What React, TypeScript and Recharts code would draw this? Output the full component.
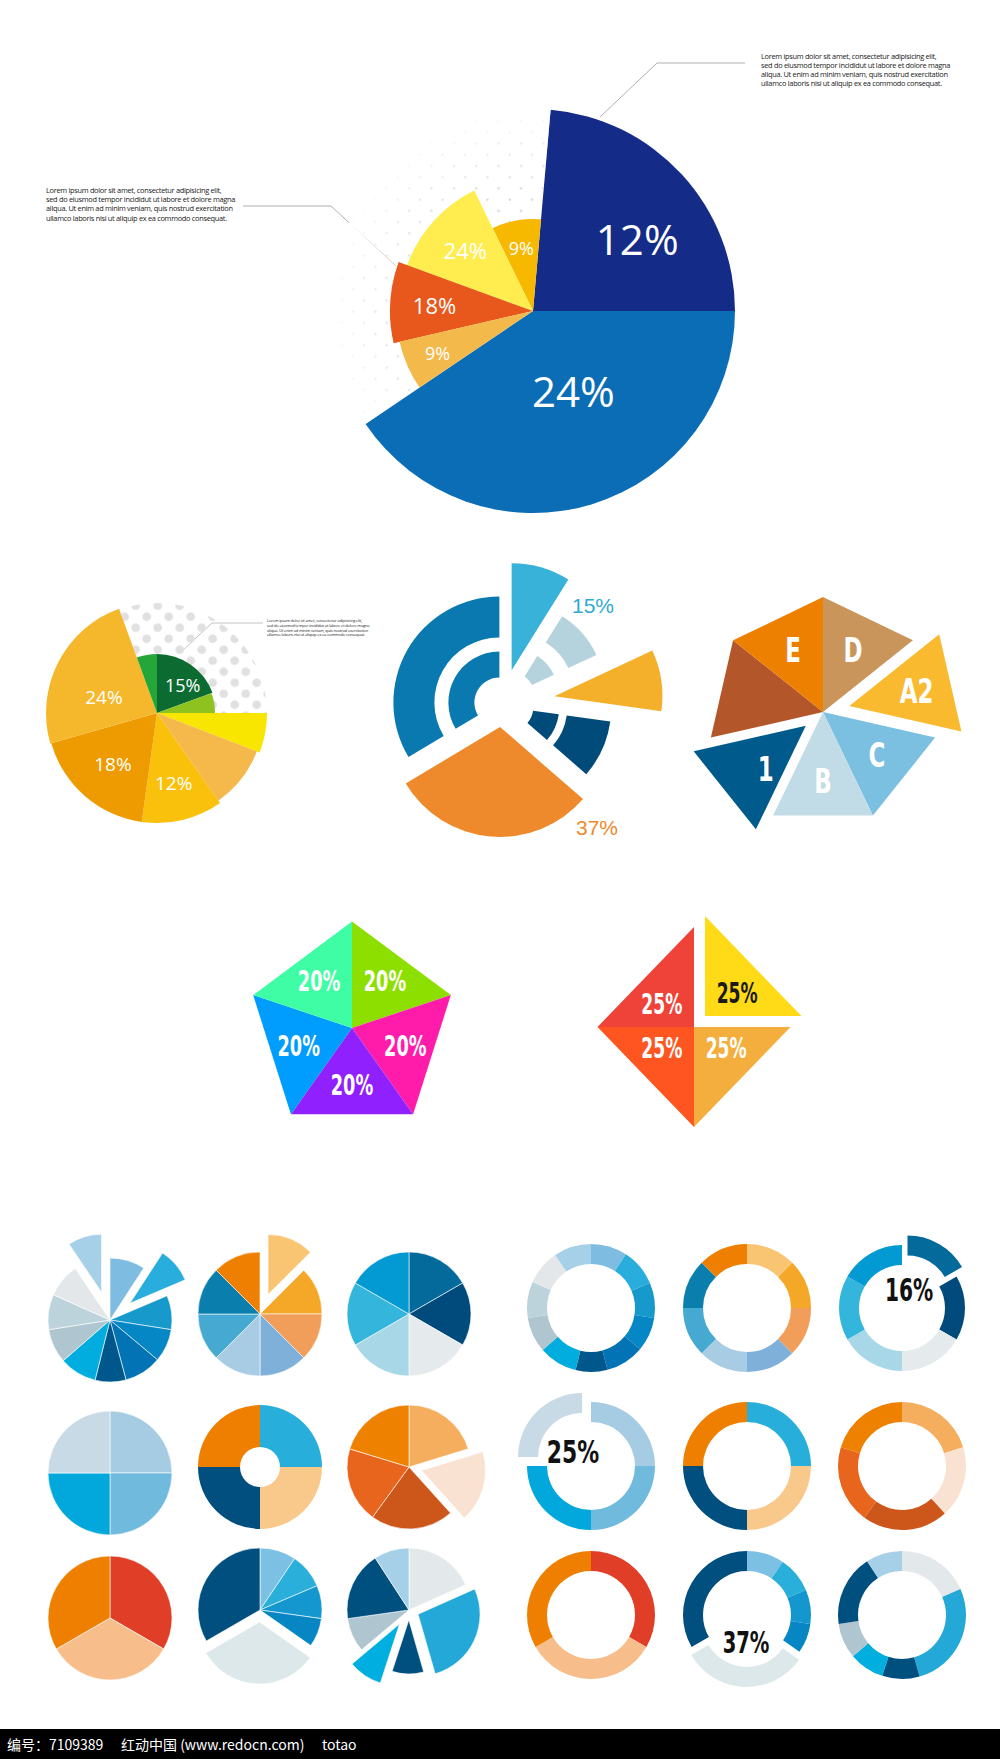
import React from "react";
import { PieChart, Pie, Cell } from "recharts";

const RAD = Math.PI / 180;
const CONDENSED = "'DejaVu Sans Condensed', 'DejaVu Sans', sans-serif";
const HUMANIST = "'Open Sans', 'Noto Sans', sans-serif";
const GROTESK = "'Liberation Sans', Arial, sans-serif";

// ---------- hero pie (top), slice widths in degrees, ccw from 3 o'clock
const heroValues = [85, 31, 44, 33, 21, 146];
const heroLabels = ["12%", "9%", "24%", "18%", "9%", "24%"];
const heroColors = ["#152B88", "#F6B900", "#FFED4F", "#E8571B", "#F3B94B", "#0A6DB6"];
const heroRadius = [202, 92, 134, 143, 137, 202];

// ---------- sun pie, cw from 3 o'clock
const sunValues = [21, 34, 43, 66, 86, 20, 70, 20];
const sunLabels = ["", "", "12%", "18%", "24%", "", "15%", ""];
const sunColors = ["#F8E600", "#F4B84B", "#F9C00C", "#ED9B00", "#F5B82C", "#25A639", "#0B6B31", "#8DC21F"];
const sunRadius = [110, 107, 110, 110, 111, 59, 59, 58];

// ---------- split rings, ccw from 12 o'clock
const ringValues = [121, 108, 33, 33, 33, 32];
const ringColors = ["#0A79B0", "#EE8A2B", "#014B7B", "#F4B02B", "#B5D3DC", "#38B2D9"];

// ---------- polygon pies
const heptaValues = [1, 1, 1, 1, 1, 1, 1];
const heptaLabels = ["D", "A2", "C", "B", "1", "", "E"];
const heptaColors = ["#C9955B", "#F9BA30", "#7CC0E1", "#C1DCE6", "#015A8C", "#B3562A", "#EE8001"];

const pentaValues = [20, 20, 20, 20, 20];
const pentaLabels = ["20%", "20%", "20%", "20%", "20%"];
const pentaColors = ["#8DDF00", "#FF1CAB", "#9021FE", "#009CFE", "#3FFDA4"];

const diamondValues = [25, 25, 25, 25];
const diamondLabels = ["25%", "25%", "25%", "25%"];
const diamondColors = ["#FFDA16", "#F4AE3D", "#FF5520", "#EF4238"];

// ---------- small multiples, cw from 12 o'clock
const blueEleven = [33, 34, 32, 31, 35, 29, 35, 32, 33, 32, 34];
const blueElevenColors = ["#7EBDE1", "#29ADDC", "#1899CC", "#0687C5", "#0274B5", "#00578C", "#00ADDE", "#AFC6D0", "#BDD3DC", "#E3E7E9", "#A6D0E8"];
const warmEight = [45, 45, 45, 45, 45, 45, 45, 45];
const warmEightColors = ["#F9C572", "#F5A828", "#F19E5A", "#7EB0D9", "#A9CCE5", "#45A9D1", "#0A7FAE", "#EE7F00"];
const sixths = [60, 60, 60, 60, 60, 60];
const sixthsColors = ["#036A9B", "#004B7B", "#E5EBED", "#A8D8E8", "#33B5DC", "#0399D3"];
const quarters = [90, 90, 90, 90];
const coolQuarterColors = ["#A6CCE4", "#70BADD", "#02A8DB", "#C8DAE6"];
const mixQuarterColors = ["#28AEDA", "#F8C98B", "#004F7F", "#EE7F00"];
const orangeFive = [73, 65, 78, 71, 73];
const orangeFiveColors = ["#F4AE5E", "#F9E2D1", "#CD571A", "#E8651E", "#EE8200"];
const thirds = [120, 120, 120];
const thirdsColors = ["#E03E26", "#F7BE8C", "#EE7F00"];
const navySix = [34, 33, 31, 27, 115, 120];
const navySixColors = ["#7CC0E3", "#2AAEDA", "#1497CE", "#0687C4", "#DDE8EB", "#004F7F"];
const mixSeven = [66, 98, 34, 32, 32, 65, 33];
const mixSevenColors = ["#E3E8EA", "#23A8D8", "#00507F", "#00AEDF", "#AFC6D0", "#00507F", "#A6D0E8"];

const loremLines = [
  "Lorem ipsum dolor sit amet, consectetur adipisicing elit,",
  "sed do eiusmod tempor incididut ut labore et dolore magna",
  "aliqua. Ut enim ad minim veniam, quis nostrud exercitation",
  "ullamco laboris nisi ut aliquip ex ea commodo consequat.",
];

type Band = [number, number, string?];

const toData = (values: number[]) => values.map((v, i) => ({ name: `s${i}`, v }));

function midAngles(values: number[], start: number, dir: number) {
  const total = values.reduce((a, b) => a + b, 0);
  let acc = 0;
  return values.map((v) => {
    const m = start + (dir * (acc + v / 2) * 360) / total;
    acc += v;
    return m;
  });
}

// one <Pie> per (band, offset) group, slices outside the group are transparent
function slicedPie(
  id: string,
  cx: number,
  cy: number,
  values: number[],
  colors: string[],
  bands: Band[][],
  o: { start?: number; dir?: number; explode?: number[]; stroke?: string; sw?: number } = {}
) {
  const start = o.start ?? 90;
  const dir = o.dir ?? -1;
  const mids = midAngles(values, start, dir);
  const data = toData(values);
  const groups: { key: string; inner: number; outer: number; dx: number; dy: number; fills: (string | null)[] }[] = [];
  const depth = Math.max(...bands.map((b) => b.length));
  for (let l = 0; l < depth; l++) {
    values.forEach((_, i) => {
      const b = bands[i][l];
      if (!b) return;
      const d = o.explode?.[i] ?? 0;
      const key = `${l}-${b[0]}-${b[1]}-${d ? i : "c"}`;
      let g = groups.find((x) => x.key === key);
      if (!g) {
        g = {
          key,
          inner: b[0],
          outer: b[1],
          dx: d * Math.cos(mids[i] * RAD),
          dy: -d * Math.sin(mids[i] * RAD),
          fills: values.map(() => null),
        };
        groups.push(g);
      }
      g.fills[i] = b[2] ?? colors[i];
    });
  }
  return groups.map((g) => (
    <Pie
      key={`${id}-${g.key}`}
      data={data}
      dataKey="v"
      cx={cx + g.dx}
      cy={cy + g.dy}
      innerRadius={g.inner}
      outerRadius={g.outer}
      startAngle={start}
      endAngle={start + dir * 360}
      stroke="none"
      isAnimationActive={false}
    >
      {g.fills.map((f, i) => (
        <Cell
          key={i}
          fill={f ?? "transparent"}
          stroke={f && o.stroke ? o.stroke : "none"}
          strokeWidth={f && o.sw ? o.sw : 0}
        />
      ))}
    </Pie>
  ));
}

function textPie(
  id: string,
  cx: number,
  cy: number,
  values: number[],
  labels: string[],
  o: { start: number; dir: number; radius: number[]; frac: number[]; turn?: number[]; size: number[] }
) {
  const render = (p: any) => {
    const i = p.index as number;
    if (!labels[i]) return null;
    const a = (p.startAngle + p.endAngle) / 2 + (o.turn?.[i] ?? 0);
    const r = o.radius[i] * o.frac[i];
    return (
      <text
        x={p.cx + r * Math.cos(a * RAD)}
        y={p.cy - r * Math.sin(a * RAD)}
        textAnchor="middle"
        dominantBaseline="central"
        fill="#fff"
        fontSize={o.size[i]}
        fontFamily={HUMANIST}
      >
        {labels[i]}
      </text>
    );
  };
  return (
    <Pie
      key={id}
      data={toData(values)}
      dataKey="v"
      cx={cx}
      cy={cy}
      outerRadius={1}
      startAngle={o.start}
      endAngle={o.start + o.dir * 360}
      fill="transparent"
      stroke="none"
      label={render}
      labelLine={false}
      isAnimationActive={false}
    />
  );
}

// triangles from the centre to two polygon corners, drawn through the pie label hook
function polyPie(
  id: string,
  cx: number,
  cy: number,
  values: number[],
  colors: string[],
  labels: string[],
  o: {
    R: number;
    sx?: number;
    explode?: number[];
    size: number;
    squeeze: number;
    ly?: number;
    ink?: string[];
    nudge?: Record<number, [number, number]>;
  }
) {
  const sx = o.sx ?? 1;
  const render = (p: any) => {
    const i = p.index as number;
    const d = o.explode?.[i] ?? 0;
    const mid = (p.startAngle + p.endAngle) / 2;
    const ox = p.cx + d * Math.cos(mid * RAD);
    const oy = p.cy - d * Math.sin(mid * RAD);
    const vx = (a: number) => ox + o.R * sx * Math.cos(a * RAD);
    const vy = (a: number) => oy - o.R * Math.sin(a * RAD);
    const pts = [
      [ox, oy],
      [vx(p.startAngle), vy(p.startAngle)],
      [vx(p.endAngle), vy(p.endAngle)],
    ];
    const gx = (pts[0][0] + pts[1][0] + pts[2][0]) / 3;
    const gy = oy + ((pts[0][1] + pts[1][1] + pts[2][1]) / 3 - oy) * (o.ly ?? 1);
    const n = o.nudge?.[i] ?? [0, 0];
    return (
      <g>
        <polygon points={pts.map((q) => q.join(",")).join(" ")} fill={colors[i]} />
        {labels[i] ? (
          <text
            transform={`translate(${gx + n[0]},${gy + n[1]}) scale(${o.squeeze},1)`}
            textAnchor="middle"
            dominantBaseline="central"
            fill={o.ink?.[i] ?? "#fff"}
            fontSize={o.size}
            fontWeight={700}
            fontFamily={CONDENSED}
            style={{ fontStretch: "condensed" }}
          >
            {labels[i]}
          </text>
        ) : null}
      </g>
    );
  };
  return (
    <Pie
      key={id}
      data={toData(values)}
      dataKey="v"
      cx={cx}
      cy={cy}
      outerRadius={o.R}
      startAngle={90}
      endAngle={-270}
      fill="transparent"
      stroke="none"
      label={render}
      labelLine={false}
      isAnimationActive={false}
    />
  );
}

const flatBands = (n: number, inner: number, outer: number, radius: Record<number, number> = {}): Band[][] =>
  Array.from({ length: n }, (_, i) => [[inner, radius[i] ?? outer]]);

const spread = (n: number, m: Record<number, number> = {}) => Array.from({ length: n }, (_, i) => m[i] ?? 0);

type Mini = {
  id: string;
  cx: number;
  cy: number;
  values: number[];
  colors: string[];
  inner: number;
  outer: number;
  explode?: Record<number, number>;
  radius?: Record<number, number>;
};

const minis: Mini[] = [
  { id: "g1", cx: 110, cy: 1320, values: blueEleven, colors: blueElevenColors, inner: 0, outer: 62, explode: { 1: 26, 10: 29 }, radius: { 1: 60, 10: 58 } },
  { id: "g2", cx: 260, cy: 1314, values: warmEight, colors: warmEightColors, inner: 0, outer: 62, explode: { 0: 21 }, radius: { 0: 60 } },
  { id: "g3", cx: 409, cy: 1314, values: sixths, colors: sixthsColors, inner: 0, outer: 62 },
  { id: "g4", cx: 591, cy: 1308, values: blueEleven, colors: blueElevenColors, inner: 44, outer: 64 },
  { id: "g5", cx: 747, cy: 1308, values: warmEight, colors: warmEightColors, inner: 44, outer: 64 },
  { id: "g6", cx: 902, cy: 1308, values: sixths, colors: sixthsColors, inner: 43, outer: 63, explode: { 0: 11 } },
  { id: "g7", cx: 110, cy: 1473, values: quarters, colors: coolQuarterColors, inner: 0, outer: 62 },
  { id: "g8", cx: 260, cy: 1467, values: quarters, colors: mixQuarterColors, inner: 20, outer: 62 },
  { id: "g9", cx: 409, cy: 1467, values: orangeFive, colors: orangeFiveColors, inner: 0, outer: 62, explode: { 1: 13 }, radius: { 1: 64 } },
  { id: "g10", cx: 591, cy: 1466, values: quarters, colors: coolQuarterColors, inner: 44, outer: 64, explode: { 3: 12.7 } },
  { id: "g11", cx: 747, cy: 1466, values: quarters, colors: mixQuarterColors, inner: 44, outer: 64 },
  { id: "g12", cx: 902, cy: 1466, values: orangeFive, colors: orangeFiveColors, inner: 44, outer: 64 },
  { id: "g13", cx: 110, cy: 1618, values: thirds, colors: thirdsColors, inner: 0, outer: 62 },
  { id: "g14", cx: 260, cy: 1610, values: navySix, colors: navySixColors, inner: 0, outer: 62, explode: { 4: 12 } },
  { id: "g15", cx: 409, cy: 1610, values: mixSeven, colors: mixSevenColors, inner: 0, outer: 62, explode: { 1: 10, 2: 10, 3: 17 }, radius: { 2: 54 } },
  { id: "g16", cx: 591, cy: 1615, values: thirds, colors: thirdsColors, inner: 44, outer: 64 },
  { id: "g17", cx: 747, cy: 1615, values: navySix, colors: navySixColors, inner: 44, outer: 64, explode: { 4: 8 } },
  { id: "g18", cx: 902, cy: 1615, values: mixSeven, colors: mixSevenColors, inner: 44, outer: 64 },
];

const Lorem = ({ x, y, size, lh, spacing }: { x: number; y: number; size: number; lh: number; spacing: number }) => (
  <div
    style={{
      position: "absolute",
      left: x,
      top: y,
      fontFamily: HUMANIST,
      fontSize: size * 2,
      lineHeight: `${lh * 2}px`,
      letterSpacing: spacing * 2,
      color: "#1a1a1a",
      whiteSpace: "nowrap",
      transform: "scale(0.5)",
      transformOrigin: "0 0",
    }}
  >
    {loremLines.map((l) => (
      <div key={l}>{l}</div>
    ))}
  </div>
);

const Tag = ({ x, y, text, size, color, family, bold, squeeze = 1 }: { x: number; y: number; text: string; size: number; color: string; family: string; bold?: boolean; squeeze?: number }) => (
  <div
    style={{
      position: "absolute",
      left: x,
      top: y,
      transform: `translate(-50%, -50%) scaleX(${squeeze})`,
      fontSize: size,
      lineHeight: 1,
      color,
      fontFamily: family,
      fontWeight: bold ? 700 : 400,
      fontStretch: bold ? "condensed" : "normal",
      whiteSpace: "nowrap",
    }}
  >
    {text}
  </div>
);

export default function App() {
  const heroBands: Band[][] = heroValues.map((_, i) =>
    i === 0 || i === 5
      ? [[0, heroRadius[i]]]
      : [[0, 204, "url(#dotsFine)"], [0, 204, "url(#heroFade)"], [0, heroRadius[i]]]
  );
  const sunBands: Band[][] = sunValues.map((_, i) =>
    i >= 5 ? [[0, 110, "url(#dotsBig)"], [0, sunRadius[i]]] : [[0, sunRadius[i]]]
  );
  const ringBands: Band[][] = [
    [[25, 51], [65, 106]],
    [[0, 110]],
    [[24, 50], [58, 102]],
    [[0, 108]],
    [[20, 44], [60, 91]],
    [[0, 107]],
  ];

  return (
    <div style={{ position: "absolute", left: 0, top: 0, width: 1000, height: 1759, background: "#fff", overflow: "hidden" }}>
      <svg width={0} height={0} style={{ position: "absolute" }}>
        <defs>
          <pattern id="dotsFine" patternUnits="userSpaceOnUse" x={11.4} y={14.8} width={22.4} height={22.4}>
            <circle cx={5.6} cy={5.6} r={1.15} fill="#d2d2d2" />
            <circle cx={16.8} cy={16.8} r={1.15} fill="#d2d2d2" />
          </pattern>
          <pattern id="dotsBig" patternUnits="userSpaceOnUse" x={9.2} y={17.2} width={22} height={22}>
            <circle cx={5.5} cy={5.5} r={4.3} fill="#e0e0e0" />
            <circle cx={16.5} cy={16.5} r={4.3} fill="#e0e0e0" />
          </pattern>
          <radialGradient id="heroFade" gradientUnits="userSpaceOnUse" cx={533} cy={311} r={204}>
            <stop offset="0.55" stopColor="#fff" stopOpacity={0} />
            <stop offset="1" stopColor="#fff" stopOpacity={0.95} />
          </radialGradient>
        </defs>
      </svg>

      <svg width={1000} height={1759} style={{ position: "absolute", left: 0, top: 0 }}>
        <polyline points="243,206 331,206 396,266" fill="none" stroke="#9a9a9a" strokeWidth={0.8} />
        <polyline points="745,63 657,63 600,117" fill="none" stroke="#9a9a9a" strokeWidth={0.8} />
        <polyline points="180,653 212,623 263,623" fill="none" stroke="#9a9a9a" strokeWidth={0.6} />
      </svg>

      <div style={{ position: "absolute", left: 0, top: 0 }}>
        <PieChart width={1000} height={1759} margin={{ top: 0, right: 0, bottom: 0, left: 0 }}>
          {slicedPie("hero", 533, 311, heroValues, heroColors, heroBands, { start: 0, dir: 1 })}
          {textPie("hero-t", 533, 311, heroValues, heroLabels, {
            start: 0,
            dir: 1,
            radius: heroRadius,
            frac: [0.63, 0.7, 0.68, 0.69, 0.76, 0.44],
            turn: [-7.5, 0, 0, 0, 0, 10],
            size: [42, 18, 22, 22, 18, 42],
          })}

          {slicedPie("sun", 157, 713, sunValues, sunColors, sunBands, { start: 0, dir: -1 })}
          {textPie("sun-t", 157, 713, sunValues, sunLabels, {
            start: 0,
            dir: -1,
            radius: sunRadius,
            frac: [0, 0, 0.65, 0.61, 0.5, 0, 0.64, 0],
            turn: [0, 0, 0, 0, 10, 0, -8, 0],
            size: [0, 0, 19, 19, 19, 0, 18, 0],
          })}

          {slicedPie("rings", 502, 704, ringValues, ringColors, ringBands, {
            start: 90,
            dir: 1,
            explode: [3, 23, 8, 53, 16, 35],
          })}

          {polyPie("hepta", 823, 712, heptaValues, heptaColors, heptaLabels, {
            R: 115,
            explode: [0, 27, 0, 0, 22, 0, 0],
            size: 34,
            squeeze: 0.75,
            nudge: { 4: [14, 0] },
          })}
          {polyPie("penta", 352, 1028, pentaValues, pentaColors, pentaLabels, {
            R: 106.6,
            sx: 0.975,
            size: 29,
            squeeze: 0.68,
          })}
          {polyPie("diamond", 694, 1027, diamondValues, diamondColors, diamondLabels, {
            R: 100,
            sx: 0.965,
            explode: [15.5, 0, 0, 0],
            ly: 0.66,
            size: 28,
            squeeze: 0.68,
            ink: ["#1a1a1a", "#fff", "#fff", "#fff"],
          })}

          {minis.map((m) =>
            slicedPie(m.id, m.cx, m.cy, m.values, m.colors, flatBands(m.values.length, m.inner, m.outer, m.radius), {
              start: 90,
              dir: -1,
              explode: spread(m.values.length, m.explode),
              stroke: m.inner === 0 ? "#ffffff" : undefined,
              sw: 0.6,
            })
          )}
        </PieChart>
      </div>

      <Lorem x={46} y={184.5} size={7.4} lh={9.3} spacing={-0.3} />
      <Lorem x={761} y={50.5} size={7.4} lh={9.1} spacing={-0.3} />
      <Lorem x={267} y={617.6} size={4.0} lh={4.7} spacing={-0.16} />

      <Tag x={593} y={605} text="15%" size={21} color="#2FA9D6" family={GROTESK} />
      <Tag x={597} y={827} text="37%" size={21} color="#EE8A2B" family={GROTESK} />

      <Tag x={909} y={1290} text="16%" size={32} color="#111" family={CONDENSED} bold squeeze={0.7} />
      <Tag x={573} y={1452} text="25%" size={32} color="#111" family={CONDENSED} bold squeeze={0.76} />
      <Tag x={746} y={1642} text="37%" size={31} color="#111" family={CONDENSED} bold squeeze={0.7} />

      <div
        style={{
          position: "absolute",
          left: 0,
          top: 1729,
          width: 1000,
          height: 30,
          background: "#000",
          color: "#fff",
          fontFamily: "'Noto Sans CJK SC', sans-serif",
          fontSize: 14,
          lineHeight: "30px",
          whiteSpace: "nowrap",
        }}
      >
        <span style={{ position: "absolute", left: 7 }}>编号：7109389</span>
        <span style={{ position: "absolute", left: 121 }}>红动中国 (www.redocn.com)</span>
        <span style={{ position: "absolute", left: 322 }}>totao</span>
      </div>
    </div>
  );
}
